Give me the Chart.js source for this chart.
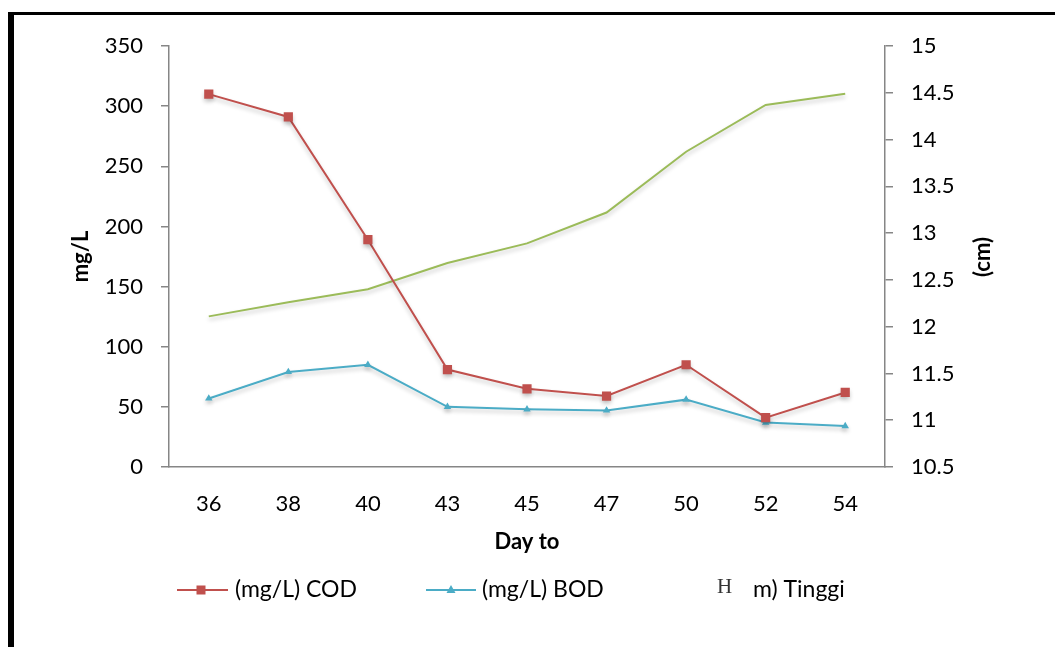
<!DOCTYPE html>
<html>
<head>
<meta charset="utf-8">
<script src="https://cdn.jsdelivr.net/npm/chart.js@4.4.1/dist/chart.umd.min.js"></script>
<style>
  html, body { margin: 0; padding: 0; background: #fff; overflow: hidden; }
  #wrap  { position: relative; width: 1055px; height: 647px; }
  #chart { position: absolute; left: 0; top: 0; }
  #frame { position: absolute; left: 8px; top: 12px; width: 1200px; height: 800px;
           border-left: 6px solid #000; border-top: 3px solid #000; pointer-events: none; }
</style>
</head>
<body>
<div id="wrap">
  <canvas id="chart" width="1055" height="647"></canvas>
  <div id="frame"></div>
</div>
<script>
/* ───────────────────────────── data */
const days   = ['36', '38', '40', '43', '45', '47', '50', '52', '54'];
const cod    = [310, 291, 189, 81, 65, 59, 85, 41, 62];
const bod    = [57, 79, 85, 50, 48, 47, 56, 37, 34];
const tinggi = [12.11, 12.26, 12.40, 12.68, 12.89, 13.22, 13.87, 14.37, 14.49];

const RED   = '#c0504d';
const BLUE  = '#4bacc6';
const GREEN = '#9bbb59';
const AXIS  = '#868686';
const FONT  = 'Lato, "Open Sans", sans-serif';

Chart.defaults.font.family = FONT;
Chart.defaults.font.size   = 22;
Chart.defaults.color       = '#000';

/* ───────────────────────────── soft shadow like the office chart */
const shadowPlugin = {
  id: 'shadow',
  beforeDatasetDraw(chart) {
    const c = chart.ctx;
    c.save();
    c.shadowColor   = 'rgba(0,0,0,0.22)';
    c.shadowBlur    = 4;
    c.shadowOffsetY = 3;
  },
  afterDatasetDraw(chart) { chart.ctx.restore(); }
};

/* ───────────────────────────── right title + legend */
const extrasPlugin = {
  id: 'extras',
  afterDraw(chart) {
    const c = chart.ctx;
    c.save();
    // right axis title, reads bottom-to-top
    c.translate(983, 257);
    c.rotate(-Math.PI / 2);
    c.font = 'bold 22px ' + FONT;
    c.fillStyle = '#000';
    c.textAlign = 'center';
    c.textBaseline = 'middle';
    c.fillText('(cm)', 0, 0);
    c.restore();

    const y = 590;
    c.save();
    c.lineWidth = 2;
    // COD
    c.strokeStyle = RED;
    c.beginPath(); c.moveTo(177, y); c.lineTo(228, y); c.stroke();
    c.fillStyle = RED;
    c.fillRect(201 - 4.5, y - 4.5, 9, 9);
    // BOD
    c.strokeStyle = BLUE;
    c.beginPath(); c.moveTo(426, y); c.lineTo(476, y); c.stroke();
    c.fillStyle = BLUE;
    c.beginPath(); c.moveTo(451, y - 5); c.lineTo(455.5, y + 3); c.lineTo(446.5, y + 3); c.closePath(); c.fill();

    c.textAlign = 'left';
    c.textBaseline = 'middle';
    c.fillStyle = '#000';
    c.font = '23px ' + FONT;
    c.fillText('(mg/L) COD', 235, y);
    c.fillText('(mg/L) BOD', 482, y);
    c.fillText('m) Tinggi', 753, y);
    c.fillStyle = '#333';
    c.font = '21px "Liberation Serif", "DejaVu Serif", serif';
    c.fillText('H', 717, y - 3);
    c.restore();
  }
};

/* ───────────────────────────── chart */
new Chart(document.getElementById('chart').getContext('2d'), {
  type: 'line',
  data: {
    labels: days,
    datasets: [
      {
        label: '(mg/L) COD', data: cod, yAxisID: 'y',
        borderColor: RED, backgroundColor: RED, borderWidth: 2,
        pointStyle: 'rect', pointRadius: 6.5, pointBorderWidth: 0, tension: 0
      },
      {
        label: '(mg/L) BOD', data: bod, yAxisID: 'y',
        borderColor: BLUE, backgroundColor: BLUE, borderWidth: 2,
        pointStyle: 'triangle', pointRadius: 4.3, pointBorderWidth: 0, tension: 0
      },
      {
        label: '(cm) Tinggi', data: tinggi, yAxisID: 'y1',
        borderColor: GREEN, backgroundColor: GREEN, borderWidth: 2,
        pointRadius: 0, tension: 0
      }
    ]
  },
  options: {
    responsive: false,
    animation: false,
    layout: { padding: { top: 46, left: 0, right: 0, bottom: 0 } },
    plugins: { legend: { display: false }, tooltip: { enabled: false } },
    scales: {
      x: {
        offset: true,
        grid: { display: false, drawTicks: false },
        border: { display: true, color: AXIS, width: 1.5 },
        ticks: { padding: 24, font: { size: 22 } },
        title: { display: true, text: 'Day to', font: { size: 22, weight: 'bold' }, padding: { bottom: 92, top: 0 } },
        afterFit: s => { s.height = 180; }
      },
      y: {
        position: 'left', min: 0, max: 350,
        ticks: { stepSize: 50, padding: 18, font: { size: 22 } },
        grid: { drawOnChartArea: false, drawTicks: true, tickLength: 8, color: AXIS, lineWidth: 1.5 },
        border: { color: AXIS, width: 1.5 },
        title: { display: true, text: 'mg/L', font: { size: 22, weight: 'bold' }, padding: { top: 68, bottom: 0 } },
        afterFit: s => { s.width = 169; }
      },
      y1: {
        position: 'right', min: 10.5, max: 15,
        ticks: { stepSize: 0.5, padding: 18, font: { size: 22 }, callback: v => String(+(+v).toFixed(1)) },
        grid: { drawOnChartArea: false, drawTicks: true, tickLength: 8, color: AXIS, lineWidth: 1.5 },
        border: { color: AXIS, width: 1.5 },
        afterFit: s => { s.width = 170; }
      }
    }
  },
  plugins: [shadowPlugin, extrasPlugin]
});
</script>
</body>
</html>
